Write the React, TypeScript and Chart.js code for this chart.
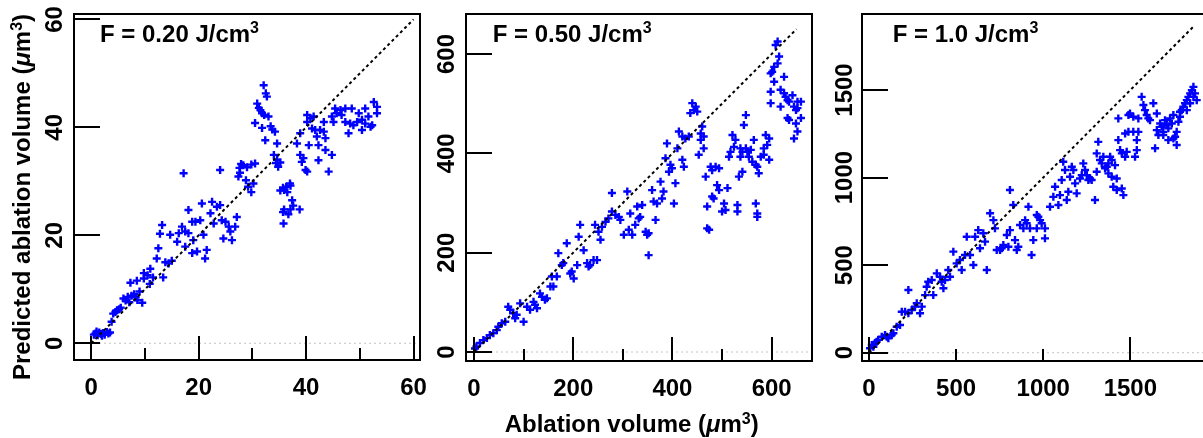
import React, { useEffect, useRef } from "react";
import { Chart, registerables } from "chart.js";

Chart.register(...registerables);

// ---------------- DATA ----------------
// Panel 1: F = 0.20 J/cm3
const p1Actual = [
  0.5, 0.8, 1.2, 1.5, 1.8, 2.2, 2.5, 2.9, 3.2, 3.5,
  1.0, 2.0, 3.8, 4.1, 4.5, 4.8, 5.2, 5.5, 6.0, 6.4,
  6.8, 7.1, 7.5, 8.0, 8.6, 9.0, 9.5, 8.3, 7.3, 8.5,
  9.8, 10.5, 11.0, 11.5, 10.9, 9.8, 12.2, 12.5, 12.8, 13.2,
  13.4, 13.8, 14.4, 15.0, 14.7, 16.0, 16.3, 16.9, 17.5, 18.1,
  17.5, 18.8, 19.0, 19.7, 20.9, 21.2, 21.5, 20.6, 19.4, 20.3,
  18.8, 18.1, 17.2, 22.5, 22.2, 22.8, 23.4, 24.0, 24.3, 24.0,
  25.0, 25.6, 25.9, 24.6, 26.2, 27.1, 26.8, 27.6, 27.9, 27.7,
  28.3, 29.0, 29.8, 30.5, 27.4, 28.8, 29.2, 30.2, 29.8, 32.1,
  32.5, 32.7, 30.9, 31.2, 31.5, 31.8, 33.0, 32.2, 30.5, 31.8,
  33.4, 34.2, 33.7, 32.4, 34.6, 34.0, 34.4, 34.8, 35.2, 34.6,
  38.9, 38.3, 38.9, 39.5, 39.2, 39.9, 40.2, 36.3, 37.0, 36.5,
  35.9, 35.2, 35.7, 37.1, 37.4, 37.6, 37.1, 38.8, 36.7, 35.9,
  35.7, 35.8, 40.2, 40.8, 40.2, 41.4, 41.1, 41.7, 43.3, 42.6,
  42.0, 43.6, 40.5, 42.3, 43.3, 43.6, 44.8, 42.3, 44.2, 45.4,
  46.4, 47.3, 48.5, 45.7, 46.6, 44.8, 45.1, 47.3, 48.2, 49.5,
  49.8, 50.4, 51.0, 51.6, 52.6, 53.2, 53.2, 52.3, 50.4, 47.9,
  48.8, 51.0, 52.0,
];
const p1Predicted = [
  1.6, 1.8, 1.5, 2.0, 1.7, 1.9, 1.6, 2.1, 1.8, 2.0,
  2.2, 1.4, 4.0, 5.5, 5.8, 6.1, 6.3, 6.6, 8.3, 7.9,
  8.6, 7.6, 8.8, 9.1, 8.0, 9.6, 7.5, 8.5, 11.2, 11.6,
  12.0, 12.6, 13.8, 12.2, 11.0, 13.0, 15.7, 17.6, 20.3, 21.9,
  12.2, 15.0, 14.8, 15.3, 20.1, 18.8, 20.4, 21.6, 20.7, 20.4,
  17.9, 16.7, 19.1, 17.0, 20.1, 15.7, 17.3, 25.9, 22.5, 22.8,
  22.5, 24.7, 31.5, 26.2, 24.1, 22.2, 25.3, 25.6, 22.8, 32.1,
  22.5, 21.6, 20.7, 19.4, 19.1, 23.4, 21.6, 32.5, 33.2, 31.6,
  33.0, 32.6, 33.1, 33.3, 30.9, 30.2, 29.0, 29.6, 28.0, 47.8,
  46.3, 45.7, 44.4, 43.6, 43.2, 42.6, 42.0, 42.3, 40.8, 39.9,
  40.2, 39.2, 39.6, 37.6, 37.0, 34.9, 33.4, 32.7, 33.5, 34.0,
  38.9, 37.0, 34.9, 34.3, 33.6, 32.1, 31.8, 29.0, 29.6, 28.0,
  28.4, 28.3, 28.8, 29.2, 26.5, 25.5, 24.8, 24.8, 23.9, 24.8,
  24.3, 22.2, 42.3, 41.7, 41.0, 42.0, 39.8, 39.5, 41.0, 39.5,
  38.3, 38.0, 36.7, 36.7, 39.2, 35.8, 34.9, 33.9, 31.8, 43.5,
  43.2, 43.5, 43.5, 42.6, 42.3, 42.0, 41.0, 41.0, 40.7, 41.0,
  42.6, 41.4, 43.5, 42.0, 44.7, 43.8, 42.6, 40.4, 39.5, 38.9,
  40.4, 40.7, 40.1,
];

// Panel 2: F = 0.50 J/cm3
const p2Actual = [
  2, 5, 12, 19, 26, 32, 39, 46, 49, 56,
  63, 69, 73, 79, 86, 83, 100, 93, 107, 113,
  120, 123, 127, 133, 137, 143, 147, 154, 160, 157,
  167, 177, 180, 170, 187, 194, 197, 201, 208, 214,
  211, 221, 228, 234, 231, 241, 248, 244, 251, 255,
  258, 265, 271, 278, 309, 278, 285, 292, 295, 302,
  312, 319, 315, 325, 329, 332,
  612, 608, 615, 612, 605, 601, 598, 605, 625, 598,
  598, 618, 625, 628, 632, 642, 635, 645, 652, 659,
  652, 618, 649, 659, 632, 649, 652, 645, 635, 440,
  447, 443, 436, 450, 460, 457, 463, 457, 463, 453,
  413, 420, 426, 433, 389, 410, 420, 423, 386, 396,
  399, 393, 406, 376, 382, 359, 362, 369, 379, 366,
  403, 339, 335, 346, 352, 349, 352, 521, 527, 524,
  517, 514, 537, 541, 548, 551, 558, 554, 564, 561,
  568, 574, 571, 578, 584, 588, 595, 591, 584, 595,
  548, 544, 537, 541, 534, 477, 487, 494, 480, 467,
  490, 494, 511, 480, 483, 470, 504, 507, 500, 531,
  531, 568, 571, 571, 470, 474,
];
const p2Predicted = [
  7, 11, 18, 24, 28, 34, 38, 44, 51, 58,
  61, 91, 85, 78, 75, 68, 61, 98, 91, 85,
  101, 95, 88, 118, 111, 105, 108, 132, 132, 152,
  152, 175, 179, 199, 219, 158, 162, 148, 175, 256,
  232, 205, 179, 175, 172, 185, 185, 256, 242, 226,
  252, 262, 269, 320, 323, 283, 276, 272, 266, 236,
  246, 236, 279, 256, 293, 269,
  625, 618, 595, 581, 574, 564, 561, 544, 554, 524,
  501, 528, 521, 514, 507, 517, 504, 494, 504, 504,
  491, 494, 487, 471, 471, 460, 444, 430, 467, 501,
  494, 487, 481, 484, 454, 440, 434, 427, 410, 397,
  444, 434, 430, 434, 420, 410, 387, 373, 390, 377,
  370, 363, 340, 343, 323, 326, 303, 299, 309, 266,
  299, 296, 272, 242, 239, 236, 195, 437, 427, 413,
  403, 393, 410, 403, 410, 403, 407, 393, 427, 383,
  377, 360, 373, 393, 410, 437, 430, 417, 397, 387,
  477, 457, 393, 363, 353, 373, 373, 370, 366, 353,
  336, 326, 330, 313, 309, 293, 299, 286, 283, 296,
  283, 299, 279, 272, 249, 246,
];

// Panel 3: F = 1.0 J/cm3
const p3Actual = [
  6, 16, 25, 34, 44, 53, 73, 92, 102, 111,
  130, 140, 159, 178, 188, 207, 226, 245, 264, 274,
  293, 303, 322, 369, 331, 340, 360, 389, 408, 417,
  427, 436, 465, 455, 484, 503, 522, 532, 551, 561,
  580, 599, 609, 627, 637, 656, 666, 676, 695, 714,
  723, 733, 762, 771, 752, 791, 800, 809, 828, 838,
  848, 857, 867, 886, 896, 915, 924, 943, 933, 963,
  963, 226, 809,
  905, 972, 982, 991, 1010, 1010,
  1039, 1058, 1068, 1096, 1087, 1106, 1125, 1115, 1144, 1135,
  1164, 1173, 1154, 1192, 1183, 1211, 1221, 1230, 1240, 1250,
  1259, 1269, 1278, 1297, 1307, 1307, 1316, 1326, 1336, 1345,
  1355, 1365, 1374, 1384, 1393, 1374, 1393, 1412, 1422, 1402,
  1422, 1451, 1460, 1431, 1441, 1451, 1470, 1479, 1470, 1489,
  1517, 1546, 1537, 1537, 1527, 1431, 1489, 1498, 1517, 1546,
  1565, 1575, 1584, 1594, 1603, 1613, 1632, 1652, 1642, 1671,
  1652, 1661, 1680, 1689, 1699, 1709, 1718, 1728, 1738, 1747,
  1757, 1766, 1747, 1766, 1776, 1785, 1795, 1804, 1814, 1824,
  1833, 1843, 1853, 1862, 1862, 1871, 1881, 1843, 1824, 1785,
  1718, 1689,
];
const p3Predicted = [
  25, 44, 34, 54, 63, 73, 91, 101, 91, 82,
  101, 111, 148, 158, 234, 234, 225, 244, 263, 282,
  225, 263, 329, 329, 377, 405, 415, 453, 434, 405,
  368, 415, 434, 472, 577, 510, 529, 472, 558, 662,
  558, 501, 662, 700, 596, 682, 634, 472, 796, 757,
  710, 586, 596, 615, 586, 672, 605, 700, 843, 643,
  586, 605, 729, 710, 757, 833, 710, 643, 558, 786,
  710, 358, 929,
  739, 776, 757, 739, 710, 653,
  833, 890, 948, 900, 843, 986, 1043, 1090, 919, 872,
  1062, 1043, 1005, 910, 967, 995, 1014, 1081, 1043, 1014,
  986, 995, 986, 872, 1033, 1138, 1204, 1100, 1081, 1119,
  1053, 1062, 1081, 1119, 1100, 1024, 1005, 1071, 995, 948,
  929, 938, 900, 1214, 1157, 1138, 1119, 1147, 1252, 1261,
  1261, 1261, 1214, 1157, 1119, 1338, 1357, 1366, 1347, 1338,
  1461, 1414, 1385, 1357, 1338, 1328, 1424, 1366, 1167, 1309,
  1271, 1243, 1290, 1261, 1328, 1300, 1281, 1338, 1309, 1357,
  1233, 1261, 1223, 1186, 1319, 1347, 1385, 1404, 1424, 1442,
  1461, 1481, 1499, 1518, 1461, 1481, 1442, 1424, 1385, 1376,
  1214, 1243,
];

// Axis ticks and labels
const p1Ticks = [0, 20, 40, 60];
const p1MajorX = [0, 20, 40, 60];
const p1MinorX = [10, 30, 50];
const p2Ticks = [0, 200, 400, 600];
const p2MajorX = [0, 200, 400, 600];
const p2MinorX = [100, 300, 500];
const p3Ticks = [0, 500, 1000, 1500];
const p3MajorX = [0, 1500];
const p3MinorX = [500, 1000];

const fluences = ["0.20", "0.50", "1.0"];
const xLimits = [[-3.2, 61.2], [-16.1, 681.3], [-40.2, 1940]];
const yLimits = [[-3.1, 61.0], [-18.1, 680.5], [-47.4, 1934]];
const diagonalEnds = [60, 650, 1870];

const xTitle = "Ablation volume";
const yTitle = "Predicted ablation volume";

// ---------------- LAYOUT (styles) ----------------
const FONT = '"Liberation Sans", Arial, Helvetica, sans-serif';
const BOLD = `bold 24px ${FONT}`;
const BOLD_IT = `italic bold 24px ${FONT}`;
const SUP = `bold 16px ${FONT}`;

const layouts = [
  { left: 0, width: 430, area: { l: 74, t: 14, r: 420, b: 360 }, labelX: 100, yLabGap: 12.5 },
  { left: 430, width: 390, area: { l: 466, t: 14, r: 812, b: 361 }, labelX: 492.7, yLabGap: 12.5 },
  { left: 820, width: 395, area: { l: 862, t: 14, r: 1207, b: 361 }, labelX: 892.7, yLabGap: 10.5 },
];

type Part = { text: string; font: string; dy?: number };

function drawRich(ctx: CanvasRenderingContext2D, parts: Part[], x: number, y: number, align: "left" | "center") {
  ctx.textAlign = "left";
  ctx.textBaseline = "alphabetic";
  let w = 0;
  for (const p of parts) {
    ctx.font = p.font;
    w += ctx.measureText(p.text).width;
  }
  let cx = align === "center" ? x - w / 2 : x;
  for (const p of parts) {
    ctx.font = p.font;
    ctx.fillText(p.text, cx, y + (p.dy || 0));
    cx += ctx.measureText(p.text).width;
  }
}

function unitParts(prefix: string): Part[] {
  return [
    { text: prefix + " (", font: BOLD },
    { text: "\u03bc", font: BOLD_IT },
    { text: "m", font: BOLD },
    { text: "3", font: SUP, dy: -8 },
    { text: ")", font: BOLD },
  ];
}

function makeFramePlugin(i: number, yTicks: number[], majorX: number[], minorX: number[]) {
  const lay = layouts[i];
  return {
    id: "frame" + i,
    afterDraw(chart: any) {
      const ctx: CanvasRenderingContext2D = chart.ctx;
      const { left, top, right, bottom } = chart.chartArea;
      const xs = chart.scales.x;
      const ys = chart.scales.y;
      ctx.save();
      ctx.strokeStyle = "#000";
      ctx.fillStyle = "#000";
      ctx.lineWidth = 2;
      ctx.setLineDash([]);
      ctx.strokeRect(left, top, right - left, bottom - top);
      // ticks (inward)
      ctx.beginPath();
      for (const v of yTicks) {
        const py = Math.round(ys.getPixelForValue(v));
        ctx.moveTo(left, py);
        ctx.lineTo(left + 26, py);
      }
      for (const v of majorX) {
        const px = Math.round(xs.getPixelForValue(v));
        ctx.moveTo(px, bottom);
        ctx.lineTo(px, bottom - 24);
      }
      for (const v of minorX) {
        const px = Math.round(xs.getPixelForValue(v));
        ctx.moveTo(px, bottom);
        ctx.lineTo(px, bottom - 12);
      }
      ctx.stroke();
      // tick labels
      ctx.font = BOLD;
      ctx.textBaseline = "alphabetic";
      ctx.textAlign = "center";
      for (const v of yTicks) {
        const py = ys.getPixelForValue(v);
        ctx.save();
        ctx.translate(left - lay.yLabGap, py);
        ctx.rotate(-Math.PI / 2);
        ctx.fillText(String(v), 0, 0);
        ctx.restore();
      }
      for (const v of yTicks) {
        const px = xs.getPixelForValue(v);
        ctx.fillText(String(v), px, bottom + 34.5);
      }
      // panel label
      drawRich(
        ctx,
        [
          { text: `F = ${fluences[i]} J/cm`, font: BOLD },
          { text: "3", font: SUP, dy: -9 },
        ],
        lay.labelX - lay.left,
        42,
        "left"
      );
      // axis titles
      if (i === 0) {
        ctx.save();
        ctx.translate(30, 380);
        ctx.rotate(-Math.PI / 2);
        drawRich(ctx, unitParts(yTitle), 0, 0, "left");
        ctx.restore();
      }
      if (i === 1) {
        drawRich(ctx, unitParts(xTitle), 631.7 - lay.left, 432.3, "center");
      }
      ctx.restore();
    },
  };
}

const panels = [
  { xs: p1Actual, ys: p1Predicted, ticks: p1Ticks, major: p1MajorX, minor: p1MinorX },
  { xs: p2Actual, ys: p2Predicted, ticks: p2Ticks, major: p2MajorX, minor: p2MinorX },
  { xs: p3Actual, ys: p3Predicted, ticks: p3Ticks, major: p3MajorX, minor: p3MinorX },
];

function Panel({ i }: { i: number }) {
  const ref = useRef<HTMLCanvasElement | null>(null);
  const lay = layouts[i];
  useEffect(() => {
    if (!ref.current) return;
    const p = panels[i];
    const pts = p.xs.map((x, k) => ({ x, y: p.ys[k] }));
    const [xmin, xmax] = xLimits[i];
    const [ymin, ymax] = yLimits[i];
    const d = diagonalEnds[i];
    const chart = new Chart(ref.current, {
      type: "scatter",
      data: {
        datasets: [
          {
            type: "line",
            data: [{ x: xmin, y: 0 }, { x: xmax, y: 0 }],
            borderColor: "#c4c4c4",
            borderWidth: 1,
            borderDash: [2, 3],
            pointRadius: 0,
            fill: false,
            order: 3,
          } as any,
          {
            type: "scatter",
            data: pts,
            pointStyle: "cross",
            pointRadius: 4,
            borderColor: "#0000ff",
            backgroundColor: "#0000ff",
            borderWidth: 2.4,
            order: 2,
          } as any,
          {
            type: "line",
            data: [{ x: 0, y: 0 }, { x: d, y: d }],
            borderColor: "#000000",
            borderWidth: 2,
            borderDash: [3, 3],
            pointRadius: 0,
            fill: false,
            order: 1,
          } as any,
        ],
      },
      options: {
        responsive: false,
        animation: false,
        events: [],
        layout: {
          padding: {
            left: lay.area.l - lay.left,
            top: lay.area.t,
            right: lay.left + lay.width - lay.area.r,
            bottom: 438 - lay.area.b,
          },
        },
        scales: {
          x: { type: "linear", min: xmin, max: xmax, display: false },
          y: { type: "linear", min: ymin, max: ymax, display: false },
        },
        plugins: { legend: { display: false }, tooltip: { enabled: false } },
      } as any,
      plugins: [makeFramePlugin(i, p.ticks, p.major, p.minor)],
    });
    return () => chart.destroy();
  }, [i]);
  return (
    <canvas
      ref={ref}
      width={lay.width}
      height={438}
      style={{ position: "absolute", left: lay.left, top: 0, width: lay.width, height: 438 }}
    />
  );
}

export default function App() {
  return (
    <div
      style={{
        position: "fixed",
        left: 0,
        top: 0,
        width: 1203,
        height: 438,
        overflow: "hidden",
        background: "#ffffff",
      }}
    >
      <Panel i={0} />
      <Panel i={1} />
      <Panel i={2} />
    </div>
  );
}
